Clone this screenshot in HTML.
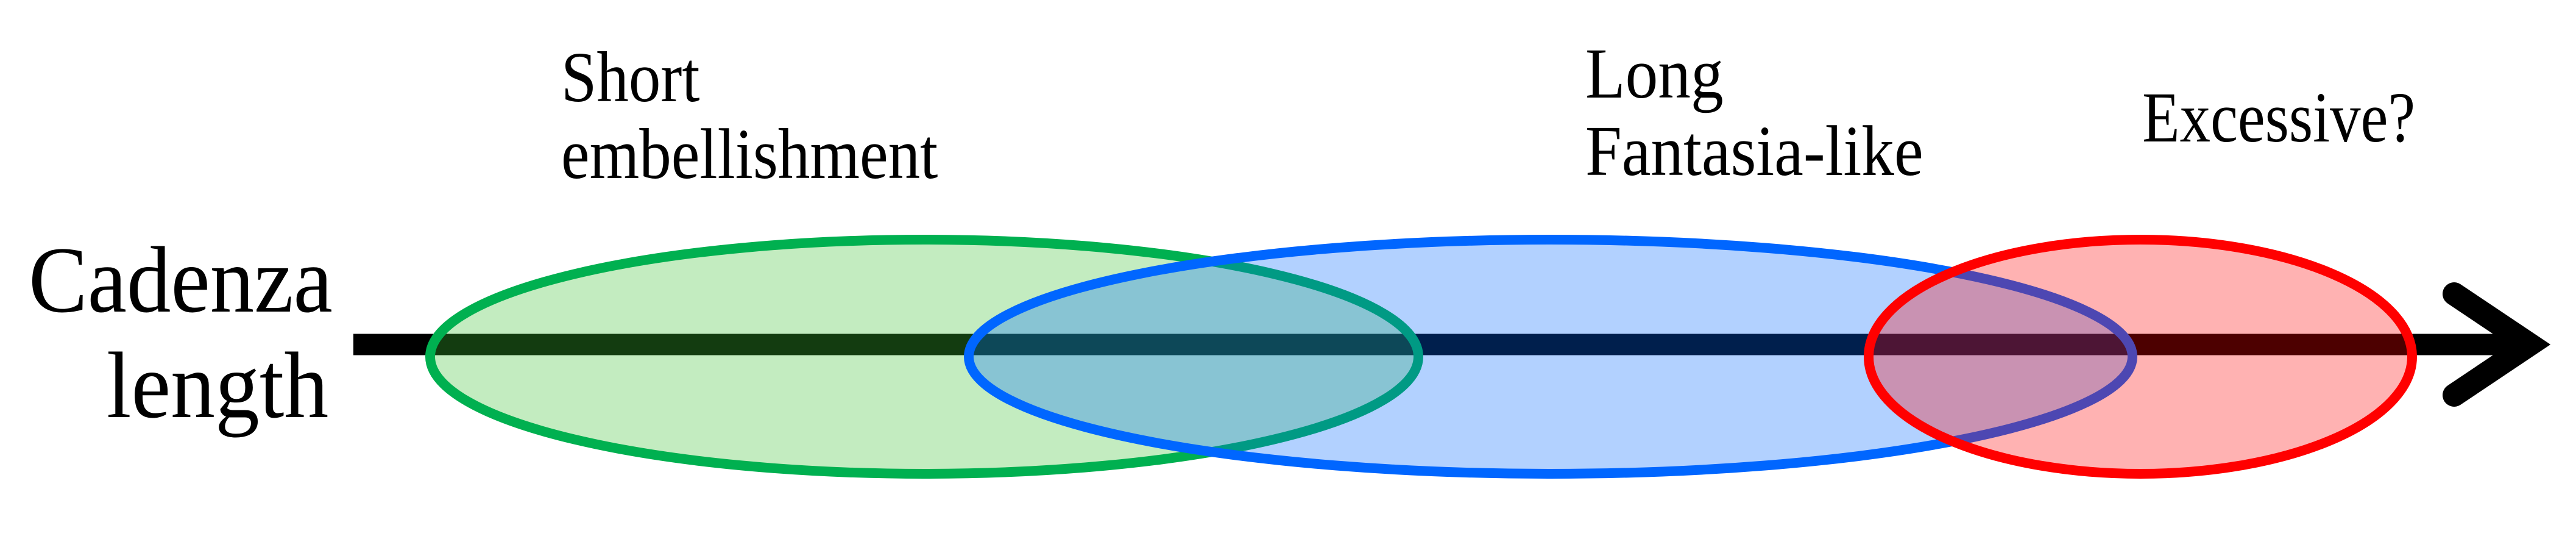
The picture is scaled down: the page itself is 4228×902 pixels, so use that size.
<!DOCTYPE html>
<html><head><meta charset="utf-8"><style>
html,body{margin:0;padding:0;background:#fff;width:4228px;height:902px;overflow:hidden;position:relative}
svg{display:block;position:absolute;left:0;top:0}
.t{position:absolute;font-family:"Liberation Serif","DejaVu Serif",serif;color:#000;white-space:nowrap;line-height:1;transform-origin:0 0}
</style></head>
<body>
<svg width="4228" height="902" viewBox="0 0 4228 902" xmlns="http://www.w3.org/2000/svg">
<line x1="580" y1="565" x2="4140" y2="565" stroke="#000" stroke-width="35"/>
<path d="M4028 482 L4152 565 L4028 648" fill="none" stroke="#000" stroke-width="38" stroke-linecap="round" stroke-linejoin="miter"/>
<ellipse cx="1517" cy="585" rx="811" ry="192" fill="rgb(60,194,51)" fill-opacity="0.31" stroke="#00b050" stroke-width="16"/>
<ellipse cx="2545" cy="585" rx="955" ry="192" fill="rgb(0,103,255)" fill-opacity="0.3" stroke="#0066ff" stroke-width="16"/>
<ellipse cx="3513" cy="585" rx="446" ry="192" fill="rgb(255,0,0)" fill-opacity="0.3" stroke="#ff0000" stroke-width="16"/>
</svg>
<div class="t" style="left:921px;top:68px;font-size:118px;transform:scaleX(0.89)">Short</div>
<div class="t" style="left:921px;top:194px;font-size:118px;transform:scaleX(0.89)">embellishment</div>
<div class="t" style="left:47px;top:382px;font-size:155px;transform:scaleX(0.935)">Cadenza</div>
<div class="t" style="left:175px;top:555px;font-size:155px;transform:scaleX(0.94)">length</div>
<div class="t" style="left:2602px;top:62px;font-size:118px;transform:scaleX(0.91)">Long</div>
<div class="t" style="left:2602px;top:189px;font-size:118px;transform:scaleX(0.91)">Fantasia-like</div>
<div class="t" style="left:3516px;top:134px;font-size:118px;transform:scaleX(0.855)">Excessive?</div>
</body></html>
